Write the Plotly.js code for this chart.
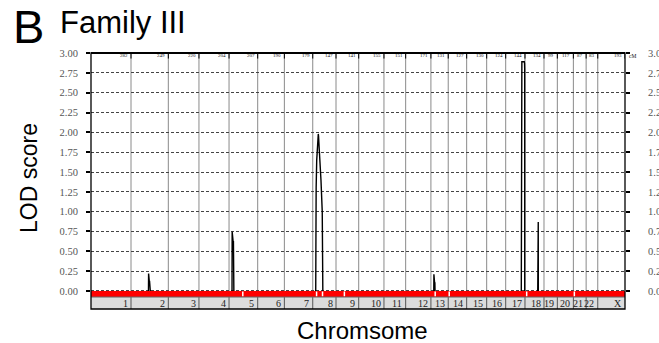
<!DOCTYPE html>
<html>
<head>
<meta charset="utf-8">
<script src="https://cdn.plot.ly/plotly-3.0.1.min.js"></script>
<style>html,body{margin:0;padding:0;background:#fff;}#chart{width:659px;height:343px;}</style>
</head>
<body>
<div id="chart"></div>
<script>
// Chromosome names and genetic lengths (cM)
const chromosomes = ['1','2','3','4','5','6','7','8','9','10','11','12','13','14','15','16','17','18','19','20','21','22','X'];
const chrLengths = [282,263,216,212,202,188,200,164,160,178,153,178,122,130,141,134,136,134,94,113,90,82,192];
// small numbers printed at top of each chromosome cell
const topLabels = ['282','249','220','204','207','190','179','147','141','155','151','171','131','127','130','124','144','134','99','117','87','83','193'];
// y ticks
const yTicks = [0,0.25,0.5,0.75,1,1.25,1.5,1.75,2,2.25,2.5,2.75,3];
const yTickText = ['0.00','0.25','0.50','0.75','1.00','1.25','1.50','1.75','2.00','2.25','2.50','2.75','3.00'];
// LOD peaks: chromosome, positions within chromosome (cM), LOD values
const segChr = [2, 5, 8, 13, 17, 18];
const segPos = [
  [123,124,129,131,136],
  [21,22,29,31,34],
  [21,21,24,28,33,39,41,46,51,58,67,70,71],
  [20,21,26,28,29],
  [110,110.5,112,114,131,133,134,134.2],
  [90,90.5,93.5,94]
];
const segLod = [
  [0,0.22,0.12,0.12,0],
  [0,0.75,0.62,0.62,0],
  [0,1.05,1.30,1.65,1.80,1.98,1.95,1.78,1.65,1.40,1.00,0.50,0],
  [0,0.21,0.10,0.10,0],
  [0,2.80,2.87,2.89,2.89,2.87,2.80,0],
  [0,0.87,0.87,0]
];
// white markers in the red band
const markChr = [5,8,8,9,13,14,18,21];
const markPos = [97,27,69,59,30,7,12,7];

const starts = [];
let acc = 0;
chrLengths.forEach(l => { starts.push(acc); acc += l; });
const total = acc;

const tx = [], ty = [];
segChr.forEach((c, i) => {
  segPos[i].forEach((p, j) => { tx.push(starts[c-1] + p); ty.push(segLod[i][j]); });
  tx.push(null); ty.push(null);
});

const RED_BOT = -0.076, GRAY_BOT = -0.227;
const shapes = [];
// vertical chromosome separators in plot region
for (let i = 1; i < chromosomes.length; i++) {
  shapes.push({type:'line', xref:'x', yref:'y', x0:starts[i], x1:starts[i], y0:0, y1:3,
    line:{color:'#8a8a8a', width:1}, layer:'below'});
}
// gray label band
shapes.push({type:'rect', xref:'x', yref:'y', x0:0, x1:total, y0:GRAY_BOT, y1:RED_BOT,
  fillcolor:'#dcdcdc', line:{width:0}, layer:'above'});
for (let i = 1; i < chromosomes.length; i++) {
  shapes.push({type:'line', xref:'x', yref:'y', x0:starts[i], x1:starts[i], y0:GRAY_BOT, y1:RED_BOT,
    line:{color:'#555', width:1}, layer:'above'});
}
// red band
shapes.push({type:'rect', xref:'x', yref:'y', x0:0, x1:total, y0:RED_BOT, y1:0,
  fillcolor:'#ff0000', line:{width:0}, layer:'above'});
shapes.push({type:'line', xref:'x', yref:'y', x0:0, x1:total, y0:RED_BOT, y1:RED_BOT,
  line:{color:'#666', width:1}, layer:'above'});
// white marks
markChr.forEach((c, i) => {
  const x = starts[c-1] + markPos[i];
  shapes.push({type:'line', xref:'x', yref:'y', x0:x, x1:x, y0:RED_BOT+0.01, y1:-0.006,
    line:{color:'#ffffff', width:1.5}, layer:'above'});
});
// small ticks at top under labels
for (let i = 1; i <= chromosomes.length; i++) {
  const x = i < chromosomes.length ? starts[i] : total;
  shapes.push({type:'line', xref:'x', yref:'y', x0:x, x1:x, y0:2.93, y1:3,
    line:{color:'#000', width:1}, layer:'above'});
}
// frame
shapes.push({type:'rect', xref:'paper', yref:'paper', x0:0, x1:1, y0:0, y1:1,
  line:{color:'#000', width:1.3}, layer:'above'});
shapes.push({type:'line', xref:'paper', yref:'paper', x0:0, x1:1, y0:1, y1:1,
  line:{color:'#000', width:2}, layer:'above'});

const annotations = [];
chromosomes.forEach((c, i) => {
  annotations.push({xref:'x', yref:'y', x:starts[i] + chrLengths[i] - 10, y:(GRAY_BOT+RED_BOT)/2,
    text:c, showarrow:false, xanchor:'right', yanchor:'middle',
    font:{family:'Liberation Serif, serif', size:10, color:'#222'}});
  annotations.push({xref:'x', yref:'y', x:starts[i] + chrLengths[i] - 8, y:2.965,
    text:topLabels[i], showarrow:false, xanchor:'right', yanchor:'middle',
    font:{family:'Liberation Serif, serif', size:5, color:'#111'}});
});
annotations.push({xref:'paper', yref:'y', x:1.004, y:2.965, text:'cM', showarrow:false,
  xanchor:'left', yanchor:'middle', font:{family:'Liberation Serif, serif', size:5.5, color:'#111'}});
annotations.push({xref:'paper', yref:'paper', x:(11-91)/534, y:(309-26)/256, text:'B', showarrow:false,
  xanchor:'left', yanchor:'middle', font:{family:'Liberation Sans, Arial, sans-serif', size:47, color:'#000'}});
annotations.push({xref:'paper', yref:'paper', x:(58-91)/534, y:(309-22)/256, text:'Family III', showarrow:false,
  xanchor:'left', yanchor:'middle', font:{family:'Liberation Sans, Arial, sans-serif', size:31, color:'#000'}});
annotations.push({xref:'paper', yref:'paper', x:(29-91)/534, y:(309-178)/256, text:'LOD score', showarrow:false,
  textangle:-90, xanchor:'center', yanchor:'middle', font:{family:'Liberation Sans, Arial, sans-serif', size:23, color:'#000'}});
annotations.push({xref:'paper', yref:'paper', x:(362-91)/534, y:(309-330)/256, text:'Chromsome', showarrow:false,
  xanchor:'center', yanchor:'middle', font:{family:'Liberation Sans, Arial, sans-serif', size:24, color:'#000'}});

const data = [
  {x:tx, y:ty, type:'scatter', mode:'lines', line:{color:'#000', width:1.4}, hoverinfo:'skip', connectgaps:false},
  {x:[0,total], y:[0,0], type:'scatter', mode:'lines', yaxis:'y2', line:{width:0}, opacity:0, hoverinfo:'skip'}
];

const yCommon = {
  range:[GRAY_BOT, 3], tickvals:yTicks, ticktext:yTickText, ticks:'outside', ticklen:4, tickwidth:2,
  tickcolor:'#000', tickfont:{family:'Liberation Serif, serif', size:10.5, color:'#555'},
  zeroline:false, showline:false, fixedrange:true
};

const layout = {
  width:659, height:343,
  margin:{l:91, r:34, t:53, b:34, pad:0},
  paper_bgcolor:'#fff', plot_bgcolor:'#fff',
  showlegend:false,
  xaxis:{range:[0,total], showgrid:false, zeroline:false, showticklabels:false, ticks:'', showline:false, fixedrange:true},
  yaxis:Object.assign({}, yCommon, {showgrid:true, gridcolor:'#444', gridwidth:1, griddash:'3px,2px', ticklabelstandoff:6}),
  yaxis2:Object.assign({}, yCommon, {overlaying:'y', side:'right', showgrid:false, ticklabelstandoff:16}),
  shapes:shapes,
  annotations:annotations
};

Plotly.newPlot('chart', data, layout, {displayModeBar:false, staticPlot:true});
</script>
</body>
</html>
